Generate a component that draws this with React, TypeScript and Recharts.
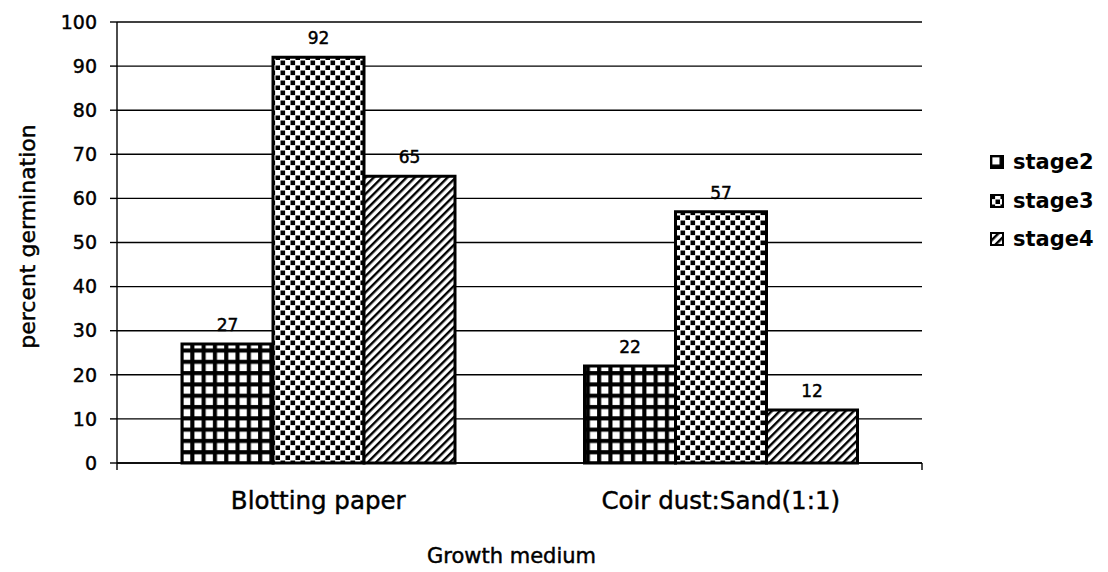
import React from "react";
import {
  BarChart, Bar, XAxis, YAxis, CartesianGrid, Legend, LabelList, Label,
} from "recharts";

const media = ["Blotting paper", "Coir dust:Sand(1:1)"];
const stage2 = [27, 22];
const stage3 = [92, 57];
const stage4 = [65, 12];
const yTicks = [0, 10, 20, 30, 40, 50, 60, 70, 80, 90, 100];
const frameTicks = [0, 1, 2];

const data = media.map((m, i) => ({
  medium: m,
  stage2: stage2[i],
  stage3: stage3[i],
  stage4: stage4[i],
}));

const fills: Record<string, string> = {
  stage2: "url(#pGrid)",
  stage3: "url(#pDots)",
  stage4: "url(#pDiag)",
};

const FONT = "'DejaVu Sans', sans-serif";
// scanned text looks heavier than a plain regular weight
const INK = { fill: "#000", stroke: "#000", strokeWidth: 0.45, fontFamily: FONT };

function YTitle(props: any) {
  const vb = props.viewBox || { x: 0, y: 0, width: 0, height: 0 };
  const cx = vb.x + 27;
  const cy = vb.y + vb.height / 2 - 6;
  return (
    <text x={cx} y={cy} transform={`rotate(-90, ${cx}, ${cy})`} textAnchor="middle"
      dominantBaseline="central" fontSize={22} {...INK}>
      percent germination
    </text>
  );
}

function XTitle(props: any) {
  const vb = props.viewBox || { x: 0, y: 0, width: 0, height: 0 };
  return (
    <text x={vb.x + vb.width / 2 - 8} y={vb.y + 92} textAnchor="middle"
      dominantBaseline="central" fontSize={21} {...INK}>
      Growth medium
    </text>
  );
}

function renderLegend(props: any) {
  const items = props.payload || [];
  return (
    <div style={{ fontFamily: FONT }}>
      {items.map((entry: any) => (
        <div key={entry.value} style={{
          display: "flex", alignItems: "center", height: 38.5,
          fontSize: 21, fontWeight: "bold", color: "#000",
        }}>
          <svg width={14} height={14} style={{ marginRight: 9 }}>
            <rect x={1} y={1} width={12} height={12} fill={fills[entry.dataKey]} stroke="#000" strokeWidth={2} />
          </svg>
          {entry.value}
        </div>
      ))}
    </div>
  );
}

export default function App() {
  return (
    <div style={{ position: "absolute", left: 0, top: 0, width: 1108, height: 572, background: "#fff", fontFamily: FONT }}>
      <BarChart
        width={1108}
        height={572}
        data={data}
        margin={{ top: 22, right: 186, bottom: 38, left: 0 }}
        barCategoryGap={65}
        barGap={0}
      >
        <defs>
          <pattern id="pGrid" patternUnits="userSpaceOnUse" width={11.3} height={11.3}>
            <rect width={11.3} height={11.3} fill="#000" />
            <rect x={2.3} y={2.3} width={7.2} height={7.2} fill="#fff" />
          </pattern>
          <pattern id="pDots" patternUnits="userSpaceOnUse" width={10} height={10}>
            <rect width={10} height={10} fill="#fff" />
            <rect x={0.5} y={0.5} width={4.6} height={4.6} fill="#000" />
            <rect x={5.5} y={5.5} width={4.6} height={4.6} fill="#000" />
          </pattern>
          <pattern id="pDiag" patternUnits="userSpaceOnUse" width={5.8} height={5.8} patternTransform="rotate(45)">
            <rect width={5.8} height={5.8} fill="#fff" />
            <rect x={0} y={0} width={2.4} height={5.8} fill="#000" />
          </pattern>
        </defs>
        <CartesianGrid vertical={false} stroke="#000" strokeWidth={1.4} />
        {/* frame axis: boundary ticks between the groups, sits right under the plot */}
        <XAxis
          type="number"
          domain={[0, 2]}
          allowDataOverflow
          ticks={frameTicks}
          height={1}
          axisLine={{ stroke: "#000", strokeWidth: 1.4 }}
          tickLine={{ stroke: "#000", strokeWidth: 1.4 }}
          tickSize={7}
          tickFormatter={() => ""}
        />
        <XAxis
          xAxisId="cat"
          dataKey="medium"
          height={70}
          tickLine={false}
          axisLine={false}
          tickSize={0}
          tickMargin={28}
          tick={{ fontSize: 24.5, ...INK }}
        >
          <Label content={<XTitle />} />
        </XAxis>
        <YAxis
          width={117}
          domain={[0, 100]}
          ticks={yTicks}
          interval={0}
          tickSize={7}
          tickMargin={13}
          axisLine={{ stroke: "#000", strokeWidth: 1.4 }}
          tickLine={{ stroke: "#000", strokeWidth: 1.4 }}
          tick={{ fontSize: 19, ...INK }}
        >
          <Label content={<YTitle />} />
        </YAxis>
        <YAxis
          yAxisId="right"
          orientation="right"
          width={0}
          domain={[0, 100]}
          tick={false}
          tickLine={false}
          axisLine={{ stroke: "#000", strokeWidth: 1.4 }}
        />
        <Legend
          layout="vertical"
          align="center"
          verticalAlign="middle"
          wrapperStyle={{ left: 990, top: 143, width: 118 }}
          content={renderLegend}
        />
        <Bar xAxisId="cat" dataKey="stage2" fill={fills.stage2} stroke="#000" strokeWidth={3} isAnimationActive={false}>
          <LabelList dataKey="stage2" position="top" offset={13} fontSize={17} {...INK} />
        </Bar>
        <Bar xAxisId="cat" dataKey="stage3" fill={fills.stage3} stroke="#000" strokeWidth={3} isAnimationActive={false}>
          <LabelList dataKey="stage3" position="top" offset={13} fontSize={17} {...INK} />
        </Bar>
        <Bar xAxisId="cat" dataKey="stage4" fill={fills.stage4} stroke="#000" strokeWidth={3} isAnimationActive={false}>
          <LabelList dataKey="stage4" position="top" offset={13} fontSize={17} {...INK} />
        </Bar>
      </BarChart>
    </div>
  );
}
